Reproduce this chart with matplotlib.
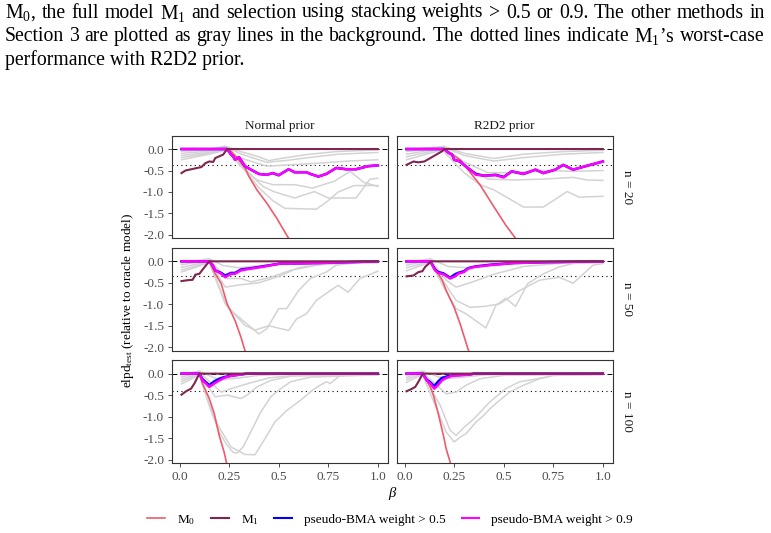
import matplotlib
matplotlib.use('Agg')
import matplotlib.pyplot as plt
from matplotlib.lines import Line2D

plt.rcParams['font.family'] = ['Liberation Serif', 'DejaVu Serif']
plt.rcParams['mathtext.fontset'] = 'custom'
plt.rcParams['mathtext.rm'] = 'Liberation Serif'
plt.rcParams['mathtext.it'] = 'Liberation Serif:italic'

# ---- data (beta, elpd relative to oracle) ----
priors = ['Normal prior', 'R2D2 prior']
sizes = ['n = 20', 'n = 50', 'n = 100']
worst_case = [-0.37, -0.34, -0.40]
x_ticks = [0.0, 0.25, 0.5, 0.75, 1.0]
x_labels = ['0.0', '0.25', '0.5', '0.75', '1.0']
y_ticks = [0.0, -0.5, -1.0, -1.5, -2.0]
y_labels = ['0.0', '-0.5', '-1.0', '-1.5', '-2.0']

# n = 20, Normal prior
n20_normal_m0 = [(0.01, 0), (0.24, 0), (0.26, -0.05), (0.29, -0.21), (0.33, -0.44), (0.35, -0.64),
                 (0.39, -0.95), (0.44, -1.26), (0.49, -1.61), (0.55, -2.08), (0.58, -2.3)]
n20_normal_m1 = [(0.01, -0.56), (0.03, -0.50), (0.06, -0.47), (0.09, -0.44), (0.11, -0.42), (0.13, -0.33),
                 (0.15, -0.29), (0.17, -0.30), (0.18, -0.21), (0.20, -0.17), (0.22, -0.13), (0.24, 0), (1.0, 0)]
n20_normal_bma05 = [(0.01, 0), (0.24, 0), (0.26, -0.13), (0.27, -0.17), (0.28, -0.25), (0.30, -0.19),
                    (0.33, -0.40), (0.36, -0.48), (0.40, -0.58), (0.44, -0.60), (0.47, -0.56), (0.50, -0.61),
                    (0.55, -0.47), (0.58, -0.54), (0.64, -0.54), (0.66, -0.58), (0.70, -0.64), (0.74, -0.58),
                    (0.79, -0.44), (0.84, -0.47), (0.89, -0.47), (0.95, -0.40), (1.0, -0.38)]
n20_normal_bma09 = [(0.01, 0), (0.24, 0), (0.26, -0.13), (0.27, -0.17), (0.28, -0.25), (0.30, -0.19),
                    (0.33, -0.40), (0.36, -0.48), (0.40, -0.58), (0.44, -0.60), (0.47, -0.56), (0.50, -0.61),
                    (0.55, -0.47), (0.58, -0.54), (0.64, -0.54), (0.66, -0.58), (0.70, -0.64), (0.74, -0.58),
                    (0.79, -0.44), (0.84, -0.47), (0.89, -0.47), (0.95, -0.40), (1.0, -0.38)]
n20_normal_gray = [
    [(0.01, -0.02), (0.12, -0.02), (0.24, 0.05), (0.30, -0.05), (0.40, -0.18), (0.45, -0.27), (0.51, -0.22),
     (0.64, -0.13), (0.79, -0.06), (1.0, -0.02)],
    [(0.01, -0.05), (0.15, -0.03), (0.23, 0.07), (0.30, -0.10), (0.44, -0.31), (0.55, -0.26), (0.65, -0.20),
     (0.80, -0.12), (1.0, -0.08)],
    [(0.01, -0.10), (0.15, -0.05), (0.23, 0.04), (0.30, -0.20), (0.44, -0.40), (0.55, -0.37), (0.70, -0.33),
     (0.85, -0.28), (1.0, -0.25)],
    [(0.01, -0.15), (0.15, -0.08), (0.24, 0.02), (0.30, -0.35), (0.39, -0.72), (0.47, -0.83), (0.58, -0.83),
     (0.67, -0.91), (0.78, -0.75), (0.86, -0.52), (0.93, -0.78), (1.0, -0.87)],
    [(0.01, -0.20), (0.15, -0.10), (0.24, 0.0), (0.30, -0.35), (0.42, -0.87), (0.48, -1.0), (0.58, -1.14),
     (0.68, -0.99), (0.75, -1.14), (0.89, -1.14), (0.96, -0.70), (1.0, -0.68)],
    [(0.01, -0.25), (0.15, -0.12), (0.24, -0.02), (0.32, -0.45), (0.40, -0.90), (0.47, -1.20), (0.53, -1.38),
     (0.69, -1.40), (0.75, -1.20), (0.80, -1.0), (0.88, -0.85), (1.0, -0.85)],
]

# n = 20, R2D2 prior
n20_r2d2_m0 = [(0.01, 0), (0.20, 0), (0.24, -0.12), (0.28, -0.25), (0.32, -0.48), (0.38, -0.83),
               (0.45, -1.34), (0.51, -1.77), (0.56, -2.08), (0.58, -2.3)]
n20_r2d2_m1 = [(0.01, -0.37), (0.045, -0.29), (0.07, -0.31), (0.10, -0.29), (0.13, -0.21), (0.16, -0.13),
               (0.19, -0.05), (0.20, 0), (1.0, 0)]
n20_r2d2_bma05 = [(0.01, 0), (0.20, 0), (0.22, -0.08), (0.24, -0.13), (0.25, -0.25), (0.28, -0.29),
                  (0.30, -0.37), (0.33, -0.48), (0.36, -0.58), (0.40, -0.62), (0.46, -0.60), (0.50, -0.65),
                  (0.54, -0.52), (0.60, -0.58), (0.66, -0.48), (0.70, -0.56), (0.76, -0.48), (0.80, -0.37),
                  (0.85, -0.48), (0.92, -0.39), (1.0, -0.29)]
n20_r2d2_bma09 = [(0.01, 0), (0.20, 0), (0.22, -0.08), (0.24, -0.13), (0.25, -0.25), (0.28, -0.29),
                  (0.30, -0.37), (0.33, -0.48), (0.36, -0.60), (0.40, -0.62), (0.46, -0.61), (0.50, -0.66),
                  (0.54, -0.52), (0.60, -0.58), (0.66, -0.48), (0.70, -0.56), (0.76, -0.48), (0.80, -0.37),
                  (0.85, -0.48), (0.92, -0.39), (1.0, -0.29)]
n20_r2d2_gray = [
    [(0.01, -0.02), (0.20, 0.06), (0.30, -0.10), (0.45, -0.22), (0.60, -0.12), (0.80, -0.06), (1.0, -0.03)],
    [(0.01, -0.06), (0.20, 0.04), (0.30, -0.15), (0.45, -0.28), (0.60, -0.20), (0.80, -0.12), (1.0, -0.08)],
    [(0.01, -0.12), (0.19, 0.02), (0.30, -0.30), (0.42, -0.55), (0.55, -0.55), (0.70, -0.50), (0.85, -0.52),
     (1.0, -0.50)],
    [(0.01, -0.18), (0.19, 0.0), (0.30, -0.40), (0.42, -0.70), (0.55, -0.72), (0.70, -0.70), (0.85, -0.66),
     (0.92, -0.72), (1.0, -0.73)],
    [(0.01, -0.25), (0.19, -0.02), (0.30, -0.55), (0.38, -0.83), (0.45, -0.95), (0.60, -1.35), (0.70, -1.35),
     (0.82, -0.99), (0.88, -1.12), (1.0, -1.10)],
]

# n = 50, Normal prior
n50_normal_m0 = [(0.01, 0), (0.15, 0), (0.18, -0.29), (0.21, -0.52), (0.24, -0.99), (0.28, -1.38),
                 (0.31, -1.77), (0.33, -2.08), (0.35, -2.3)]
n50_normal_m1 = [(0.01, -0.46), (0.04, -0.44), (0.066, -0.43), (0.08, -0.31), (0.10, -0.29), (0.12, -0.17),
                 (0.15, 0), (1.0, 0)]
n50_normal_bma05 = [(0.01, 0), (0.15, 0), (0.167, -0.09), (0.18, -0.21), (0.21, -0.27), (0.23, -0.33),
                    (0.26, -0.27), (0.28, -0.27), (0.31, -0.19), (0.36, -0.16), (0.43, -0.11), (0.51, -0.05),
                    (0.59, -0.05), (0.69, -0.04), (0.85, -0.02), (1.0, 0)]
n50_normal_bma09 = [(0.01, 0), (0.15, 0), (0.167, -0.09), (0.18, -0.21), (0.21, -0.29), (0.23, -0.37),
                    (0.26, -0.29), (0.28, -0.29), (0.31, -0.21), (0.36, -0.17), (0.43, -0.12), (0.51, -0.05),
                    (0.59, -0.05), (0.69, -0.04), (0.85, -0.02), (1.0, 0)]
n50_normal_gray = [
    [(0.01, -0.03), (0.15, 0.06), (0.22, -0.10), (0.30, -0.15), (0.45, -0.08), (0.60, -0.03), (1.0, -0.01)],
    [(0.01, -0.08), (0.15, 0.03), (0.24, -0.40), (0.31, -0.40), (0.36, -0.48), (0.46, -0.37), (0.56, -0.21),
     (0.70, -0.08), (0.85, -0.04), (1.0, -0.02)],
    [(0.01, -0.14), (0.15, 0.0), (0.23, -0.60), (0.30, -0.55), (0.40, -0.50), (0.50, -0.35), (0.60, -0.15),
     (0.75, -0.05), (1.0, -0.03)],
    [(0.01, -0.20), (0.15, -0.02), (0.23, -0.99), (0.26, -1.14), (0.33, -1.42), (0.40, -1.69), (0.44, -1.57),
     (0.50, -1.10), (0.54, -1.10), (0.60, -0.68), (0.66, -0.40), (0.74, -0.25), (0.79, -0.09), (0.86, -0.05),
     (1.0, -0.03)],
    [(0.01, -0.25), (0.15, -0.03), (0.24, -1.05), (0.33, -1.49), (0.38, -1.60), (0.45, -1.50), (0.55, -1.61),
     (0.59, -1.34), (0.64, -1.22), (0.69, -0.91), (0.76, -0.68), (0.80, -0.56), (0.85, -0.72), (0.91, -0.40),
     (1.0, -0.23)],
]

# n = 50, R2D2 prior
n50_r2d2_m0 = [(0.01, 0), (0.13, 0), (0.19, -0.44), (0.21, -0.68), (0.25, -1.07), (0.28, -1.45),
               (0.32, -2.04), (0.34, -2.3)]
n50_r2d2_m1 = [(0.01, -0.35), (0.045, -0.33), (0.07, -0.25), (0.09, -0.23), (0.104, -0.13), (0.13, -0.02),
               (0.135, 0), (1.0, 0)]
n50_r2d2_bma05 = [(0.01, 0), (0.13, 0), (0.154, -0.19), (0.17, -0.25), (0.196, -0.28), (0.23, -0.38),
                  (0.255, -0.30), (0.27, -0.27), (0.30, -0.23), (0.32, -0.16), (0.355, -0.12), (0.43, -0.08),
                  (0.55, -0.04), (0.72, -0.02), (1.0, 0)]
n50_r2d2_bma09 = [(0.01, 0), (0.13, 0), (0.154, -0.21), (0.17, -0.27), (0.196, -0.30), (0.23, -0.40),
                  (0.255, -0.35), (0.27, -0.29), (0.30, -0.25), (0.32, -0.17), (0.355, -0.13), (0.43, -0.09),
                  (0.55, -0.04), (0.72, -0.02), (1.0, 0)]
n50_r2d2_gray = [
    [(0.01, -0.03), (0.13, 0.06), (0.22, -0.12), (0.32, -0.15), (0.45, -0.07), (0.60, -0.03), (1.0, -0.01)],
    [(0.01, -0.09), (0.13, 0.03), (0.21, -0.44), (0.26, -0.60), (0.33, -0.50), (0.45, -0.30), (0.60, -0.12),
     (0.80, -0.04), (1.0, -0.02)],
    [(0.01, -0.15), (0.13, 0.0), (0.26, -0.91), (0.33, -1.07), (0.40, -1.05), (0.48, -0.99), (0.58, -0.68),
     (0.68, -0.44), (0.78, -0.37), (0.85, -0.51), (0.95, -0.09), (1.0, -0.05)],
    [(0.01, -0.22), (0.13, -0.02), (0.21, -0.70), (0.26, -1.10), (0.31, -1.22), (0.41, -1.55), (0.46, -1.03),
     (0.51, -0.86), (0.56, -1.05), (0.62, -0.52), (0.70, -0.29), (0.78, -0.13), (0.85, -0.05), (1.0, -0.03)],
]

# n = 100, Normal prior
n100_normal_m0 = [(0.01, 0), (0.10, 0), (0.116, -0.23), (0.15, -0.58), (0.175, -0.93), (0.20, -1.44),
                  (0.225, -1.83), (0.236, -2.06), (0.25, -2.3)]
n100_normal_m1 = [(0.01, -0.49), (0.033, -0.41), (0.058, -0.35), (0.075, -0.23), (0.10, 0), (1.0, 0)]
n100_normal_bma05 = [(0.01, 0), (0.10, 0), (0.116, -0.13), (0.133, -0.20), (0.15, -0.27), (0.175, -0.18),
                     (0.20, -0.12), (0.225, -0.08), (0.26, -0.05), (0.31, -0.02), (0.34, 0), (1.0, 0)]
n100_normal_bma09 = [(0.01, 0), (0.10, 0), (0.116, -0.16), (0.133, -0.23), (0.15, -0.31), (0.175, -0.23),
                     (0.20, -0.16), (0.225, -0.10), (0.26, -0.05), (0.31, -0.02), (0.34, 0), (1.0, 0)]
n100_normal_gray = [
    [(0.01, -0.03), (0.10, 0.06), (0.20, -0.15), (0.30, -0.10), (0.40, -0.04), (0.60, -0.01), (1.0, -0.01)],
    [(0.01, -0.08), (0.10, 0.03), (0.21, -0.43), (0.26, -0.35), (0.33, -0.25), (0.45, -0.10), (0.60, -0.03),
     (1.0, -0.02)],
    [(0.01, -0.13), (0.10, 0.0), (0.18, -0.54), (0.24, -0.50), (0.31, -0.58), (0.34, -0.50), (0.39, -0.31),
     (0.46, -0.16), (0.56, -0.06), (0.80, -0.03), (1.0, -0.02)],
    [(0.01, -0.18), (0.10, -0.02), (0.155, -0.82), (0.20, -1.36), (0.24, -1.67), (0.27, -1.83), (0.29, -1.85),
     (0.32, -1.71), (0.35, -1.44), (0.41, -0.89), (0.46, -0.54), (0.51, -0.35), (0.56, -0.19), (0.66, -0.08),
     (1.0, -0.03)],
    [(0.01, -0.24), (0.10, -0.03), (0.18, -1.10), (0.26, -1.71), (0.33, -1.88), (0.38, -1.89), (0.43, -1.52),
     (0.48, -1.13), (0.54, -0.86), (0.61, -0.62), (0.68, -0.35), (0.74, -0.19), (0.76, -0.23), (0.81, -0.04),
     (1.0, -0.02)],
]

# n = 100, R2D2 prior
n100_r2d2_m0 = [(0.01, 0), (0.092, 0), (0.13, -0.31), (0.146, -0.51), (0.17, -0.93), (0.196, -1.44),
                (0.21, -1.75), (0.23, -2.06), (0.24, -2.3)]
n100_r2d2_m1 = [(0.01, -0.41), (0.03, -0.37), (0.054, -0.31), (0.07, -0.19), (0.092, 0), (1.0, 0)]
n100_r2d2_bma05 = [(0.01, 0), (0.092, 0), (0.112, -0.14), (0.13, -0.20), (0.15, -0.29), (0.17, -0.18),
                   (0.188, -0.10), (0.21, -0.07), (0.24, -0.04), (0.28, -0.03), (0.33, -0.02), (0.35, 0), (1.0, 0)]
n100_r2d2_bma09 = [(0.01, 0), (0.092, 0), (0.112, -0.16), (0.13, -0.23), (0.15, -0.35), (0.17, -0.26),
                   (0.188, -0.16), (0.21, -0.10), (0.24, -0.05), (0.28, -0.04), (0.33, -0.02), (0.35, 0), (1.0, 0)]
n100_r2d2_gray = [
    [(0.01, -0.03), (0.09, 0.06), (0.20, -0.12), (0.30, -0.08), (0.40, -0.03), (0.60, -0.01), (1.0, -0.01)],
    [(0.01, -0.09), (0.09, 0.03), (0.21, -0.47), (0.26, -0.43), (0.31, -0.27), (0.38, -0.12), (0.50, -0.04),
     (1.0, -0.02)],
    [(0.01, -0.14), (0.09, 0.0), (0.18, -0.74), (0.23, -1.32), (0.26, -1.44), (0.30, -1.25), (0.35, -1.05),
     (0.43, -0.66), (0.51, -0.35), (0.58, -0.19), (0.72, -0.08), (0.75, -0.04), (1.0, -0.02)],
    [(0.01, -0.20), (0.09, -0.02), (0.21, -1.36), (0.25, -1.59), (0.28, -1.48), (0.31, -1.40), (0.36, -1.13),
     (0.40, -0.97), (0.43, -0.82), (0.48, -0.62), (0.53, -0.43), (0.60, -0.27), (0.68, -0.12), (0.75, -0.04),
     (1.0, -0.02)],
]

panels = [
    [(n20_normal_m0, n20_normal_m1, n20_normal_bma05, n20_normal_bma09, n20_normal_gray),
     (n20_r2d2_m0, n20_r2d2_m1, n20_r2d2_bma05, n20_r2d2_bma09, n20_r2d2_gray)],
    [(n50_normal_m0, n50_normal_m1, n50_normal_bma05, n50_normal_bma09, n50_normal_gray),
     (n50_r2d2_m0, n50_r2d2_m1, n50_r2d2_bma05, n50_r2d2_bma09, n50_r2d2_gray)],
    [(n100_normal_m0, n100_normal_m1, n100_normal_bma05, n100_normal_bma09, n100_normal_gray),
     (n100_r2d2_m0, n100_r2d2_m1, n100_r2d2_bma05, n100_r2d2_bma09, n100_r2d2_gray)],
]

c_m0 = '#EF5B6B'
c_m1 = '#7E2650'
c_b05 = '#0000FF'
c_b09 = '#FF00FF'
c_gray = '#D3D3D3'
c_txt = '#4D4D4D'


def xy(pts):
    return [p[0] for p in pts], [p[1] for p in pts]


# ---- figure ----
W, H = 771, 533
fig = plt.figure(figsize=(W / 100, H / 100), dpi=100)
renderer = fig.canvas.get_renderer()

caption = [
    r'M$_0$, the full model M$_1$ and selection using stacking weights > 0.5 or 0.9. The other methods in',
    r'Section 3 are plotted as gray lines in the background.  The dotted lines indicate M$_1$’s worst-case',
    'performance with R2D2 prior.',
]
# first two lines are justified between x=5 and x=765 like in the paper
for i, line in enumerate(caption):
    y = 1 - (13 + 23.5 * i) / H
    if i == len(caption) - 1:
        fig.text(5 / W, y, line, fontsize=14.2, va='center', ha='left')
        continue
    words = line.split()
    texts = [fig.text(0, y, w, fontsize=14.2, va='center', ha='left') for w in words]
    widths = [t.get_window_extent(renderer).width for t in texts]
    gap = (760 - sum(widths)) / (len(words) - 1)
    x = 5.0
    for t, w in zip(texts, widths):
        t.set_x(x / W)
        x += w + gap

col_left = [171.7, 396.7]
col_w = 216.0
row_top = [135.7, 248.0, 360.3]
row_h = 102.7

for r in range(3):
    for c in range(2):
        m0, m1, b05, b09, grays = panels[r][c]
        ax = fig.add_axes([col_left[c] / W, 1 - (row_top[r] + row_h) / H, col_w / W, row_h / H])
        for g in grays:
            ax.plot(*xy(g), color=c_gray, lw=1.1, zorder=1)
        ax.plot(*xy(m0), color=c_m0, lw=1.2, zorder=2)
        ax.plot(*xy(b05), color=c_b05, lw=1.8, zorder=3)
        ax.plot(*xy(b09), color=c_b09, lw=1.8, zorder=4)
        ax.plot(*xy(m1), color=c_m1, lw=1.5, zorder=5)
        ax.axhline(0, color='black', lw=0.7, ls=(0, (5, 3)), zorder=0.5)
        ax.axhline(worst_case[r], color='black', lw=0.8, ls=(0, (1, 3)), zorder=0.5)

        ax.set_xlim(-0.0395, 1.0495)
        ax.set_ylim(-2.08, 0.31)
        ax.set_yticks(y_ticks)
        ax.set_xticks(x_ticks)
        for s in ax.spines.values():
            s.set_color('#333333')
            s.set_linewidth(0.8)
        ax.tick_params(colors='#333333', labelcolor=c_txt, labelsize=9.5, length=3, width=0.6, pad=2.5)
        if c == 0:
            ax.set_yticklabels(y_labels)
        else:
            ax.tick_params(axis='y', left=False, labelleft=False)
        if r == 2:
            ax.set_xticklabels(x_labels)
        else:
            ax.tick_params(axis='x', bottom=False, labelbottom=False)
        if r == 0:
            ax.set_title(priors[c], fontsize=9.5, color='#1A1A1A', pad=5)
        if c == 1:
            ax.text(1.065, 0.5, sizes[r], transform=ax.transAxes, rotation=-90, fontsize=9.5,
                    color='#1A1A1A', ha='center', va='center')

fig.text(128 / W, 1 - 300 / H, r'elpd$_{\rm test}$ (relative to oracle model)', rotation=90,
         fontsize=9.5, ha='center', va='center', color='black')
fig.text(393 / W, 1 - 493 / H, r'$\it{\beta}$', fontsize=10.5, ha='center', va='center')

handles = [Line2D([], [], color=c_m0, lw=1.2), Line2D([], [], color=c_m1, lw=1.5),
           Line2D([], [], color=c_b05, lw=1.5), Line2D([], [], color=c_b09, lw=1.5)]
labels = [r'M$_0$', r'M$_1$', 'pseudo-BMA weight > 0.5', 'pseudo-BMA weight > 0.9']
fig.legend(handles, labels, loc='center', bbox_to_anchor=(390 / W, 1 - 520 / H), ncol=4, frameon=False,
           fontsize=9.5, handlelength=1.35, columnspacing=1.2, handletextpad=0.9)

fig.savefig('out.png', dpi=100)
